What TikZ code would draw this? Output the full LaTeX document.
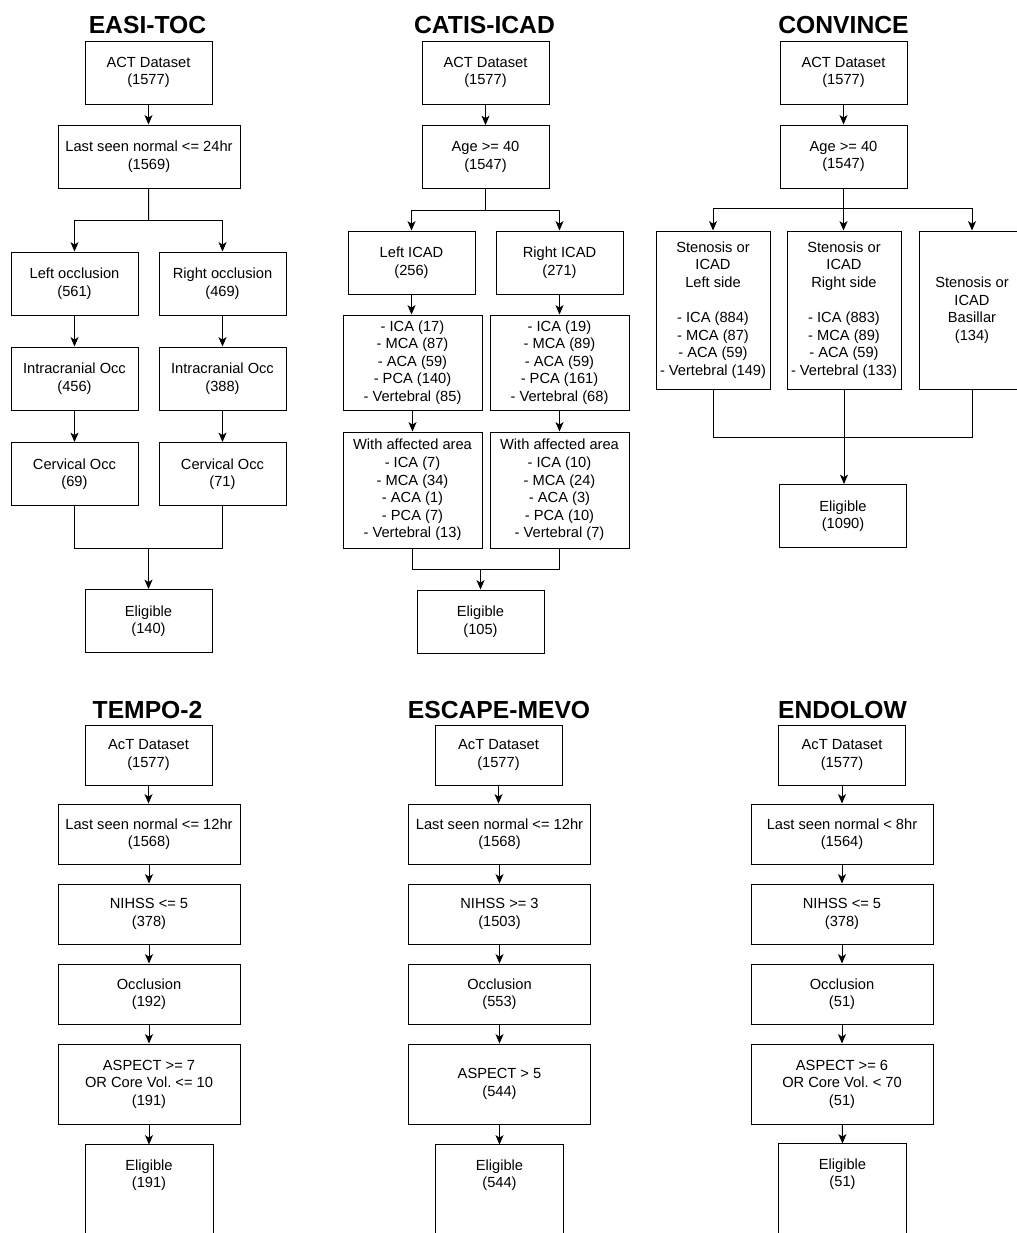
\documentclass[tikz,border=0pt]{standalone}
\usepackage{fontspec}
\setmainfont{Liberation Sans}
\usetikzlibrary{arrows.meta, positioning, calc}

\begin{document}
\begin{tikzpicture}[x=0.75pt, y=-0.75pt, line width=0.75pt, > = {Stealth[length=7pt, width=6pt, inset=1.8pt]},
    stage/.style = {draw, align=center, inner xsep=1pt, inner ysep=0pt, minimum width=95.25pt, minimum height=47.25pt, font=\fontsize{11}{13.2}\selectfont},
    wide/.style = {minimum width=136.5pt},
    low/.style = {minimum height=45pt},
    listbox/.style = {minimum width=104.25pt},
    sidebox/.style = {minimum width=85.5pt, minimum height=118.5pt},
    openstage/.style = {stage, draw=none, low},
    title/.style = {anchor=base, inner sep=0pt, font=\bfseries\fontsize{18.5}{20}\selectfont},
  ]
    \useasboundingbox (0,0) rectangle (1017,1233);
    \clip (0,0) rectangle (1017,1233);

    % EASI-TOC
    \node[title] (easi) at (147.5,33) {EASI-TOC};
    \node[stage] (e1) at (148.5,72.5) {ACT Dataset\\(1577)};
    \node[stage, wide] (e2) at (149,156.5) {Last seen normal <= 24hr\\(1569)};
    \node[stage] (e3) at (74.5,283.5) {Left occlusion\\(561)};
    \node[stage] (e4) at (222.5,283.5) {Right occlusion\\(469)};
    \node[stage] (e5) at (74.5,378.5) {Intracranial Occ\\(456)};
    \node[stage] (e6) at (222.5,378.5) {Intracranial Occ\\(388)};
    \node[stage] (e7) at (74.5,474) {Cervical Occ\\(69)};
    \node[stage] (e8) at (222.5,474) {Cervical Occ\\(71)};
    \node[stage] (e9) at (148.5,621) {Eligible\\(140)};
    \coordinate (esplit) at (148.5,220);
    \coordinate (emerge) at (148.5,548);
    \draw[->] (e1) -- (e1 |- e2.north);
    \draw (e2) -- (esplit);
    \draw[->] (esplit) -| (e3);
    \draw[->] (esplit) -| (e4);
    \draw[->] (e3) -- (e5);
    \draw[->] (e4) -- (e6);
    \draw[->] (e5) -- (e7);
    \draw[->] (e6) -- (e8);
    \draw (e7) |- (emerge) -| (e8);
    \draw[->] (emerge) -- (e9);

    % CATIS-ICAD
    \node[title] (catis) at (484.5,33) {CATIS-ICAD};
    \node[stage] (c1) at (485.5,72.5) {ACT Dataset\\(1577)};
    \node[stage] (c2) at (485.5,157) {Age >= 40\\(1547)};
    \node[stage] (c3) at (411.5,262.5) {Left ICAD\\(256)};
    \node[stage] (c4) at (559.5,262.5) {Right ICAD\\(271)};
    \node[stage, listbox, minimum height=71.25pt] (c5) at (412.5,362.5) {- ICA (17)\\- MCA (87)\\- ACA (59)\\- PCA (140)\\- Vertebral (85)};
    \node[stage, listbox, minimum height=71.25pt] (c6) at (559.5,362.5) {- ICA (19)\\- MCA (89)\\- ACA (59)\\- PCA (161)\\- Vertebral (68)};
    \node[stage, listbox, minimum height=87pt] (c7) at (412.5,490) {With affected area\\- ICA (7)\\- MCA (34)\\- ACA (1)\\- PCA (7)\\- Vertebral (13)};
    \node[stage, listbox, minimum height=87pt] (c8) at (559.5,490) {With affected area\\- ICA (10)\\- MCA (24)\\- ACA (3)\\- PCA (10)\\- Vertebral (7)};
    \node[stage] (c9) at (480.5,621.5) {Eligible\\(105)};
    \coordinate (csplit) at (485.5,210);
    \coordinate (cmerge) at (480.5,569);
    \draw[->] (c1) -- (c2);
    \draw (c2) -- (csplit);
    \draw[->] (csplit) -| (c3);
    \draw[->] (csplit) -| (c4);
    \draw[->] (c3) -- (c3 |- c5.north);
    \draw[->] (c4) -- (c6);
    \draw[->] (c5) -- (c7);
    \draw[->] (c6) -- (c8);
    \draw (c7) |- (cmerge) -| (c8);
    \draw[->] (cmerge) -- (c9);

    % CONVINCE
    \node[title] (convince) at (843.5,33) {CONVINCE};
    \node[stage] (v1) at (843.5,72.5) {ACT Dataset\\(1577)};
    \node[stage] (v2) at (843.5,156.5) {Age >= 40\\(1547)};
    \node[stage, sidebox] (v3) at (713,310) {Stenosis or\\ICAD\\Left side\\[13.2pt]- ICA (884)\\- MCA (87)\\- ACA (59)\\- Vertebral (149)};
    \node[stage, sidebox] (v4) at (844,310) {Stenosis or\\ICAD\\Right side\\[13.2pt]- ICA (883)\\- MCA (89)\\- ACA (59)\\- Vertebral (133)};
    \node[stage, sidebox, minimum width=79.5pt] (v5) at (972,310) {Stenosis or\\ICAD\\Basillar\\(134)};
    \node[stage] (v6) at (843,516) {Eligible\\(1090)};
    \coordinate (vsplit) at (843.5,208);
    \coordinate (vmerge) at (843.5,437);
    \draw[->] (v1) -- (v2);
    \draw (v2) -- (vsplit);
    \draw[->] (vsplit) -| (v3);
    \draw[->] (vsplit) -- (vsplit |- v4.north);
    \draw[->] (vsplit) -| (v5);
    \draw (v3) |- (vmerge) -| (v5);
    \draw[->] (v4) -- (v4 |- v6.north);

    % TEMPO-2
    \node[title] (tempo) at (147.5,718) {TEMPO-2};
    \node[stage, low] (t1) at (148.5,755) {AcT Dataset\\(1577)};
    \node[stage, wide, low] (t2) at (149,834) {Last seen normal <= 12hr\\(1568)};
    \node[stage, wide, low] (t3) at (149,914) {NIHSS <= 5\\(378)};
    \node[stage, wide, low] (t4) at (149,994) {Occlusion\\(192)};
    \node[stage, wide, minimum height=60pt] (t5) at (149,1084) {ASPECT >= 7\\OR Core Vol.\ <= 10\\(191)};
    \node[openstage] (t6) at (149,1175) {Eligible\\(191)};
    \draw (t6.north west) ++(0,100) -- (t6.north west) -- (t6.north east) -- ++(0,100);
    \draw[->] (t1) -- (t1 |- t2.north);
    \draw[->] (t2) -- (t3);
    \draw[->] (t3) -- (t4);
    \draw[->] (t4) -- (t5);
    \draw[->] (t5) -- (t6.north);

    % ESCAPE-MEVO
    \node[title] (escape) at (499,718) {ESCAPE-MEVO};
    \node[stage, low] (m1) at (498.5,755) {AcT Dataset\\(1577)};
    \node[stage, wide, low] (m2) at (499.5,834) {Last seen normal <= 12hr\\(1568)};
    \node[stage, wide, low] (m3) at (499.5,914) {NIHSS >= 3\\(1503)};
    \node[stage, wide, low] (m4) at (499.5,994) {Occlusion\\(553)};
    \node[stage, wide, minimum height=60pt] (m5) at (499.5,1084) {ASPECT > 5\\(544)};
    \node[openstage] (m6) at (499.5,1175) {Eligible\\(544)};
    \draw (m6.north west) ++(0,100) -- (m6.north west) -- (m6.north east) -- ++(0,100);
    \draw[->] (m1) -- (m1 |- m2.north);
    \draw[->] (m2) -- (m3);
    \draw[->] (m3) -- (m4);
    \draw[->] (m4) -- (m5);
    \draw[->] (m5) -- (m6.north);

    % ENDOLOW
    \node[title] (endolow) at (842.5,718) {ENDOLOW};
    \node[stage, low] (n1) at (842,755) {AcT Dataset\\(1577)};
    \node[stage, wide, low] (n2) at (842,834) {Last seen normal < 8hr\\(1564)};
    \node[stage, wide, low] (n3) at (842,914) {NIHSS <= 5\\(378)};
    \node[stage, wide, low] (n4) at (842,994) {Occlusion\\(51)};
    \node[stage, wide, minimum height=60pt] (n5) at (842,1084) {ASPECT >= 6\\OR Core Vol.\ < 70\\(51)};
    \node[openstage] (n6) at (842.5,1174) {Eligible\\(51)};
    \draw (n6.north west) ++(0,100) -- (n6.north west) -- (n6.north east) -- ++(0,100);
    \draw[->] (n1) -- (n2);
    \draw[->] (n2) -- (n3);
    \draw[->] (n3) -- (n4);
    \draw[->] (n4) -- (n5);
    \draw[->] (n5) -- (n6.north);
\end{tikzpicture}
\end{document}
